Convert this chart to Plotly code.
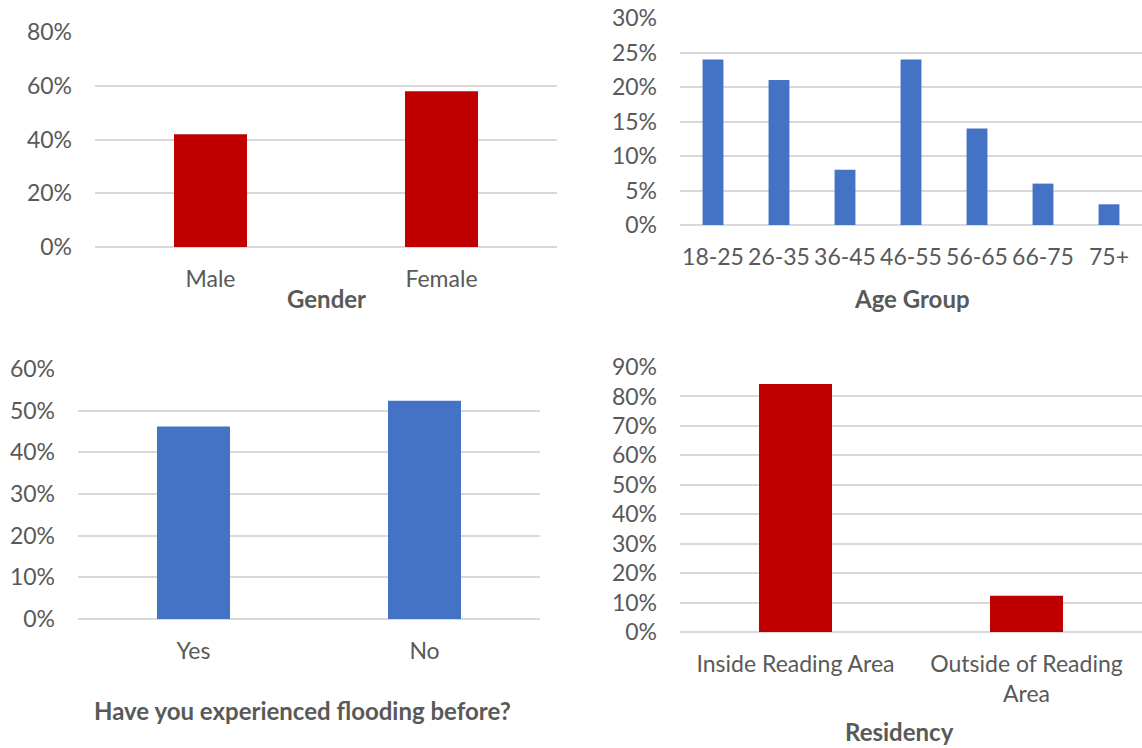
import plotly.graph_objects as go

# Survey respondent profile
gender_cats = ["Male", "Female"]
gender_vals = [0.42, 0.58]

age_cats = ["18-25", "26-35", "36-45", "46-55", "56-65", "66-75", "75+"]
age_vals = [0.24, 0.21, 0.08, 0.24, 0.14, 0.06, 0.03]

flood_cats = ["Yes", "No"]
flood_vals = [0.462, 0.524]

res_cats = ["Inside Reading Area", "Outside of Reading<br>Area"]
res_vals = [0.842, 0.123]

W, H = 1142, 748
RED = "#C00000"
BLUE = "#4472C4"
TXT = "#595959"
GRID = "#D9D9D9"
FONT = "Lato"
TICK_SIZE = 23
TITLE_SIZE = 24


def xdom(x0, x1):
    return [x0 / W, x1 / W]


def ydom(top, bottom):
    return [1 - bottom / H, 1 - top / H]


fig = go.Figure()

panels = [
    # (categories, values, colour, x-range px, y-range px (top, bottom), ymax, dtick)
    (gender_cats, gender_vals, RED, (95, 557), (32, 247), 0.8, 0.2),
    (age_cats, age_vals, BLUE, (680, 1142), (18, 225), 0.3, 0.05),
    (flood_cats, flood_vals, BLUE, (78, 540), (369, 619), 0.6, 0.1),
    (res_cats, res_vals, RED, (680, 1142), (367, 632), 0.9, 0.1),
]

layout_axes = {}
for i, (cats, vals, col, (xa, xb), (yt, yb), ymax, dt) in enumerate(panels, start=1):
    sfx = "" if i == 1 else str(i)
    fig.add_trace(go.Bar(
        x=cats, y=vals, marker=dict(color=col, line=dict(width=0)),
        xaxis="x" + sfx, yaxis="y" + sfx, showlegend=False,
        hovertemplate="%{x}: %{y:.0%}<extra></extra>",
    ))
    layout_axes["xaxis" + sfx] = dict(
        domain=xdom(xa, xb), anchor="y" + sfx, type="category",
        range=[-0.5, len(cats) - 0.5], showgrid=False, showline=False,
        ticks="", ticklabelstandoff=16,
        tickfont=dict(family=FONT, size=TICK_SIZE, color=TXT), fixedrange=True,
    )
    layout_axes["yaxis" + sfx] = dict(
        domain=ydom(yt, yb), anchor="x" + sfx, range=[0, ymax],
        dtick=dt, tick0=0, tickformat=".0%", showgrid=True,
        gridcolor=GRID, gridwidth=1.6, zeroline=True, zerolinecolor=GRID,
        zerolinewidth=2, showline=False, ticks="", ticklabelstandoff=22,
        tickfont=dict(family=FONT, size=TICK_SIZE, color=TXT), fixedrange=True,
    )

titles = [
    ("Gender", 326, 298),
    ("Age Group", 912, 299),
    ("Have you experienced flooding before?", 302, 710),
    ("Residency", 899, 731),
]
annotations = [
    dict(text=f"<b>{t}</b>", x=x / W, y=1 - y / H, xref="paper", yref="paper",
         xanchor="center", yanchor="middle", showarrow=False,
         font=dict(family=FONT, size=TITLE_SIZE, color=TXT))
    for t, x, y in titles
]

fig.update_layout(
    width=W, height=H,
    margin=dict(l=0, r=0, t=0, b=0, pad=0, autoexpand=False),
    paper_bgcolor="white", plot_bgcolor="white",
    bargap=0.684, annotations=annotations, **layout_axes,
)

fig.write_html("out.html", config={"displayModeBar": False})
